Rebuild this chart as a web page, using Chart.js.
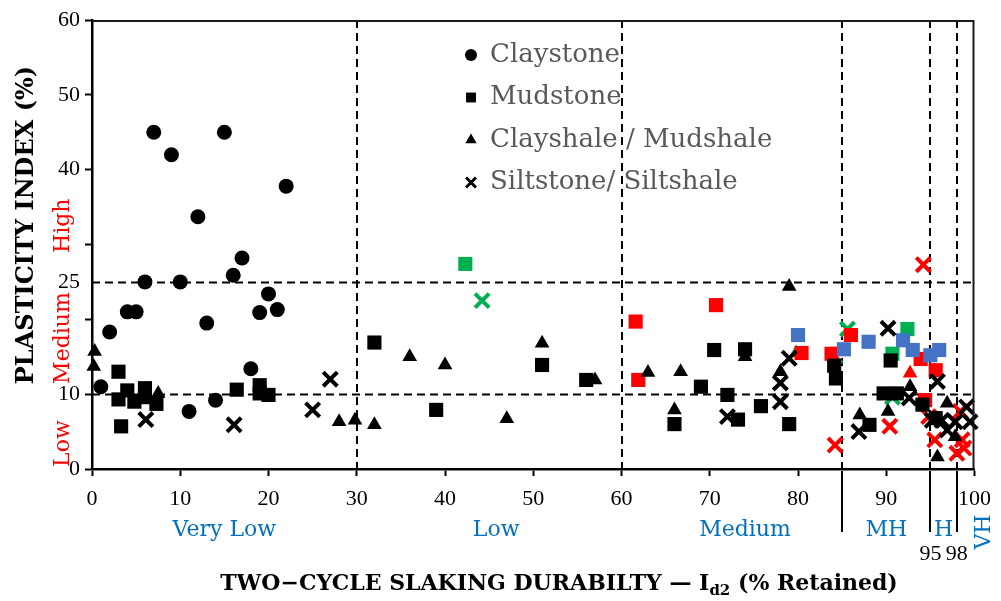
<!DOCTYPE html>
<html>
<head>
<meta charset="utf-8">
<title>Plasticity index vs slake durability</title>
<script src="https://cdn.jsdelivr.net/npm/chart.js@4.4.0/dist/chart.umd.min.js"></script>
<style>
  html, body { margin: 0; padding: 0; background: #ffffff; }
  #wrap { width: 1001px; height: 601px; }
</style>
</head>
<body>
<div id="wrap"><canvas id="chart" width="1001" height="601"></canvas></div>
<script>
// ---- data: [Id2 (% retained), plasticity index (%)] ----
const claystone = [
  [1, 11], [2, 18.3], [4, 21], [5, 21], [6, 25], [7, 45], [9, 42], [10, 25],
  [11, 7.7], [12, 33.7], [13, 19.5], [14, 9.2], [15, 45], [16, 25.9], [17, 28.2],
  [18, 13.4], [19, 20.9], [20, 23.4], [21, 21.3], [22, 37.8]
];
const mudstoneBlack = [
  [3, 13], [3, 9.3], [4, 10.5], [4.8, 9], [6, 10.8], [6, 9.6], [7.3, 8.7], [3.3, 5.7],
  [16.4, 10.6], [19, 11.2], [19, 10.1], [20, 9.9], [32, 16.9], [39, 7.9], [51, 13.9],
  [56, 11.9], [66, 6], [69, 11], [70.5, 15.9], [72, 9.9], [73.2, 6.6], [74, 16],
  [75.8, 8.4], [79, 6], [84.1, 13.8], [84.3, 12.1], [88.1, 5.9], [89.7, 10.1],
  [91.2, 10.1], [90.5, 14.5], [94.1, 8.6], [95.6, 6.8]
];
const mudstoneRed = [
  [61.6, 19.7], [61.9, 11.9], [70.7, 21.9], [80.4, 15.5], [83.8, 15.4], [86, 17.9],
  [93.9, 14.7], [95.6, 13.2], [94.4, 9.2]
];
const mudstoneGreen = [[42.3, 27.4], [90.7, 15.4], [92.4, 18.7]];
const mudstoneBlue = [[80, 17.9], [85.2, 16], [88, 17], [91.9, 17.2], [93, 15.9], [95, 15.2], [96, 15.9]];
const clayshaleBlack = [
  [0.3, 15.7], [0.2, 13.7], [7.5, 10.1], [28, 6.3], [29.8, 6.5], [32, 5.9], [36, 15],
  [40, 13.9], [47, 6.7], [51, 16.8], [57, 11.9], [63, 12.9], [66.7, 13], [66, 7.9],
  [74, 15], [78, 13], [79, 24.4], [87, 7.2], [90.2, 7.7], [92.7, 11], [95.8, 1.6],
  [96.9, 8.8], [97.8, 4.3]
];
const clayshaleRed = [[92.7, 12.8]];
const clayshaleGreen = [[79.8, 15.5]];
const siltstoneBlack = [
  [6.1, 6.6], [16.1, 5.9], [25, 7.9], [27, 12], [72, 7], [78, 11.5], [78, 9], [79, 14.8],
  [86.9, 5], [90.2, 18.8], [92.6, 9.5], [95.2, 6.5], [95.8, 11.7], [96.9, 5.2],
  [97.8, 6.3], [99.1, 8.3], [99.5, 6.3], [96.3, 6.5]
];
const siltstoneRed = [
  [84.2, 3.2], [90.4, 5.7], [94.2, 27.3], [94.8, 7], [95.5, 3.9], [98.4, 7.7],
  [98.6, 3.9], [98, 2.1], [98.8, 2.8]
];
const siltstoneGreen = [[44.2, 22.5], [84.2, 15.1], [85.6, 18.7], [90.7, 9.6]];

// ---- axis ticks and class boundaries ----
const xTickValues = [0, 10, 20, 30, 40, 50, 60, 70, 80, 90, 100];
const yTickValues = [0, 10, 20, 25, 30, 40, 50, 60];
const yTickText = ['0', '10', '', '25', '', '40', '50', '60'];
const durabilityBounds = [30, 60, 85, 95, 98];
const durabilityMarks = [85, 95, 98];
const durabilityMarkText = ['', '95', '98'];
const plasticityBounds = [10, 25];
const durabilityClasses = ['Very Low', 'Low', 'Medium', 'MH', 'H', 'VH'];
const plasticityClasses = ['Low', 'Medium', 'High'];
const legendNames = ['Claystone', 'Mudstone', 'Clayshale / Mudshale', 'Siltstone/ Siltshale'];

// ---- styling ----
const BLACK = '#000000', RED = '#FF0000', GREEN = '#00B050', BLUE = '#4472C4';
const CLASS_BLUE = '#0070C0';
const SERIF = '"DejaVu Serif", serif';
const TICK_FONT = '"Liberation Serif", serif';

const shapeStyle = {
  circle:   { pointStyle: 'circle',   radius: 7.5, border: 0 },
  rect:     { pointStyle: 'rect',     radius: 10,  border: 0 },
  triangle: { pointStyle: 'triangle', radius: 8.5, border: 0 },
  crossRot: { pointStyle: 'crossRot', radius: 10,  border: 4 }
};

function series(label, points, shape, color) {
  const s = shapeStyle[shape];
  return {
    label,
    data: points.map(([x, y]) => ({ x, y })),
    pointStyle: s.pointStyle,
    pointRadius: s.radius,
    pointHoverRadius: s.radius,
    pointBorderWidth: s.border,
    backgroundColor: color,
    borderColor: color,
    showLine: false,
    clip: false
  };
}

const datasets = [
  series('Claystone', claystone, 'circle', BLACK),
  series('Mudstone', mudstoneBlack, 'rect', BLACK),
  series('Clayshale / Mudshale', clayshaleBlack, 'triangle', BLACK),
  series('Siltstone/ Siltshale', siltstoneBlack, 'crossRot', BLACK),
  series('Mudstone (blue)', mudstoneBlue, 'rect', BLUE),
  series('Mudstone (red)', mudstoneRed, 'rect', RED),
  series('Clayshale (red)', clayshaleRed, 'triangle', RED),
  series('Siltstone (red)', siltstoneRed, 'crossRot', RED),
  series('Mudstone (green)', mudstoneGreen, 'rect', GREEN),
  series('Clayshale (green)', clayshaleGreen, 'triangle', GREEN),
  series('Siltstone (green)', siltstoneGreen, 'crossRot', GREEN)
];

function rotatedText(ctx, text, x, y) {
  ctx.save();
  ctx.translate(x, y);
  ctx.rotate(-Math.PI / 2);
  ctx.fillText(text, 0, 0);
  ctx.restore();
}

// Classification boundaries, frame, class names, axis titles and legend
const decorPlugin = {
  id: 'decor',
  beforeDatasetsDraw(chart) {
    const { ctx, chartArea: a, scales: { x, y } } = chart;
    ctx.save();
    ctx.strokeStyle = '#000';
    ctx.lineWidth = 2;
    ctx.setLineDash([8, 5]);
    plasticityBounds.forEach(v => {
      const py = Math.round(y.getPixelForValue(v)) + 0.5;
      ctx.beginPath(); ctx.moveTo(a.left, py); ctx.lineTo(a.right, py); ctx.stroke();
    });
    durabilityBounds.forEach(v => {
      const px = Math.round(x.getPixelForValue(v));
      ctx.beginPath(); ctx.moveTo(px, a.top); ctx.lineTo(px, a.bottom); ctx.stroke();
    });
    ctx.restore();
  },
  afterDraw(chart) {
    const { ctx, chartArea: a, scales: { x, y } } = chart;
    ctx.save();

    // frame: top and right edges
    ctx.strokeStyle = '#1a1a1a';
    ctx.lineWidth = 2;
    ctx.beginPath();
    ctx.moveTo(a.left, a.top + 1); ctx.lineTo(a.right - 1, a.top + 1); ctx.lineTo(a.right - 1, a.bottom);
    ctx.stroke();

    // solid markers below the axis for the upper durability classes
    ctx.strokeStyle = '#000';
    ctx.lineWidth = 2;
    durabilityMarks.forEach(v => {
      const px = Math.round(x.getPixelForValue(v));
      ctx.beginPath(); ctx.moveTo(px, a.bottom + 2); ctx.lineTo(px, a.bottom + 63); ctx.stroke();
    });
    ctx.fillStyle = '#000';
    ctx.font = '22px ' + TICK_FONT;
    ctx.textAlign = 'center';
    ctx.textBaseline = 'middle';
    durabilityMarks.forEach((v, i) => {
      if (durabilityMarkText[i]) ctx.fillText(durabilityMarkText[i], x.getPixelForValue(v), a.bottom + 85);
    });

    // durability class names
    const classAt = [15, 45.8, 74, 90, 96.5];
    ctx.fillStyle = CLASS_BLUE;
    ctx.font = '22px ' + SERIF;
    classAt.forEach((v, i) => ctx.fillText(durabilityClasses[i], x.getPixelForValue(v), a.bottom + 61));
    rotatedText(ctx, durabilityClasses[5], a.right + 10, a.bottom + 63);

    // plasticity class names
    const plastAt = [3.4, 17.5, 32.5];
    ctx.fillStyle = RED;
    plastAt.forEach((v, i) => rotatedText(ctx, plasticityClasses[i], 63, y.getPixelForValue(v)));

    // y title
    ctx.fillStyle = '#000';
    ctx.font = 'bold 24px ' + SERIF;
    rotatedText(ctx, 'PLASTICITY INDEX (%)', 27, 225);

    // x title with subscript
    const big = 'bold 22px ' + SERIF, small = 'bold 15px ' + SERIF;
    const p1 = 'TWO\u2212CYCLE SLAKING DURABILTY \u2014 I', p2 = 'd2', p3 = ' (% Retained)';
    ctx.font = big; const w1 = ctx.measureText(p1).width, w3 = ctx.measureText(p3).width;
    ctx.font = small; const w2 = ctx.measureText(p2).width;
    let sx = 559 - (w1 + w2 + w3) / 2;
    const by = 590;
    ctx.textAlign = 'left';
    ctx.textBaseline = 'alphabetic';
    ctx.font = big; ctx.fillText(p1, sx, by); sx += w1;
    ctx.font = small; ctx.fillText(p2, sx, by + 5); sx += w2;
    ctx.font = big; ctx.fillText(p3, sx, by);

    // legend
    const legendStyles = [
      { pointStyle: 'circle', radius: 6, borderWidth: 0 },
      { pointStyle: 'rect', radius: 7, borderWidth: 0 },
      { pointStyle: 'triangle', radius: 6.5, borderWidth: 0 },
      { pointStyle: 'crossRot', radius: 7, borderWidth: 3 }
    ];
    ctx.textBaseline = 'middle';
    legendNames.forEach((name, i) => {
      const ly = 55 + i * 42.5;
      ctx.fillStyle = '#000';
      ctx.strokeStyle = '#000';
      ctx.lineWidth = legendStyles[i].borderWidth;
      Chart.helpers.drawPoint(ctx, { ...legendStyles[i], rotation: 0 }, 471, ly);
      ctx.fillStyle = '#595959';
      ctx.font = '26px ' + SERIF;
      ctx.fillText(name, 490, ly);
    });

    ctx.restore();
  }
};

new Chart(document.getElementById('chart'), {
  type: 'scatter',
  data: { datasets },
  options: {
    responsive: false,
    animation: false,
    devicePixelRatio: 1,
    layout: { padding: { top: 20, right: 25, left: 0, bottom: 0 } },
    plugins: { legend: { display: false }, tooltip: { enabled: false } },
    scales: {
      x: {
        type: 'linear', min: 0, max: 100,
        afterBuildTicks: s => { s.ticks = xTickValues.map(v => ({ value: v })); },
        afterFit: s => { s.height = 132; },
        ticks: { color: '#000', font: { family: TICK_FONT, size: 22 }, padding: 10, maxRotation: 0 },
        grid: { drawOnChartArea: false, drawTicks: true, tickLength: 7, tickWidth: 2, tickColor: '#000' },
        border: { color: '#000', width: 2.5 }
      },
      y: {
        type: 'linear', min: 0, max: 60,
        afterBuildTicks: s => { s.ticks = yTickValues.map(v => ({ value: v })); },
        afterFit: s => { s.width = 92; },
        ticks: {
          color: '#000', font: { family: TICK_FONT, size: 22 }, padding: 5,
          callback: v => yTickText[yTickValues.indexOf(v)]
        },
        grid: {
          drawOnChartArea: false, drawTicks: true, tickLength: 7, tickWidth: 2,
          tickColor: c => (c.tick && c.tick.value === 25 ? 'rgba(0,0,0,0)' : '#000')
        },
        border: { color: '#000', width: 2.5 }
      }
    }
  },
  plugins: [decorPlugin]
});
</script>
</body>
</html>
